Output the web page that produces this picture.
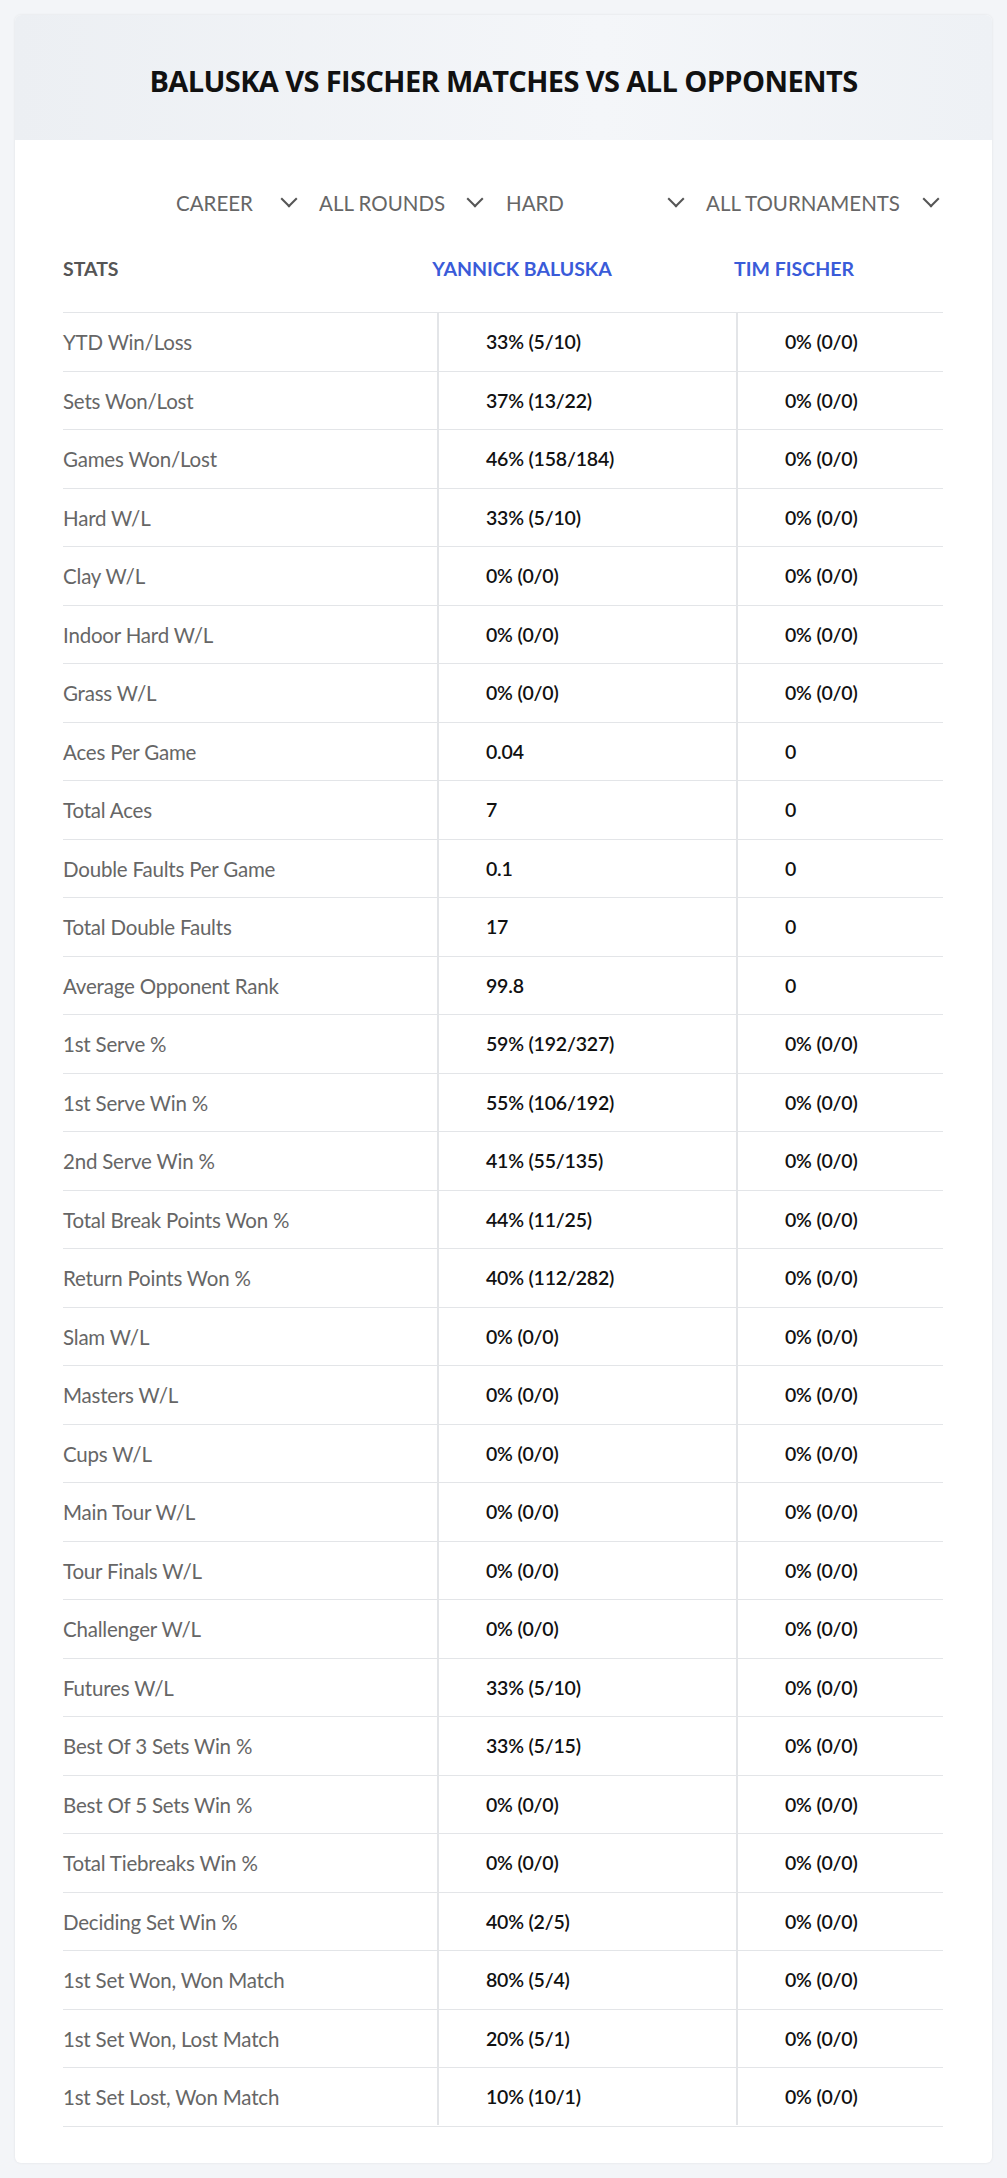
<!DOCTYPE html>
<html><head><meta charset="utf-8">
<script src="https://cdn.jsdelivr.net/npm/chart.js@4"></script>
<style>
html,body{margin:0;padding:0;background:#f3f5f8;font-family:Lato,"Noto Sans",sans-serif;}
#card{position:absolute;left:15px;top:15px;width:977px;height:2148px;background:#fff;border-radius:6px;box-shadow:0 0 3px rgba(0,0,0,0.08);overflow:hidden}
#head{position:absolute;left:0;top:0;width:977px;height:125px;background:linear-gradient(90deg,#eceff3,#f4f6f9 60%,#eef1f5);}
#title{position:absolute;left:0;top:3px;width:977px;line-height:125px;text-align:center;font-size:29px;font-weight:700;color:#111;font-family:"Open Sans",sans-serif;letter-spacing:-0.6px}
.dd{position:absolute;top:191px;font-size:20.5px;color:#666}
.chev{position:absolute;top:193px;width:10px;height:10px;border-right:2.5px solid #555;border-bottom:2.5px solid #555;transform:rotate(45deg)}
.hd{position:absolute;top:257px;font-size:19.5px;font-weight:700}
.row{position:absolute;left:63px;width:880px;height:58.5px;border-top:1.5px solid #e3e5e8}
.lab{position:absolute;left:0;font-size:20.5px;color:#666;line-height:58px;letter-spacing:-0.2px}
.v{position:absolute;font-size:19.5px;color:#111;font-weight:600;line-height:58px;letter-spacing:-0.2px}
.vl{position:absolute;top:312px;width:1.5px;background:#e3e5e8;height:1813px}
</style></head><body>
<div id="card"><div id="head"><div id="title"></div></div></div>
<div id="tbl"></div>
<script>
const filters=["CAREER","ALL ROUNDS","HARD","ALL TOURNAMENTS"];
const players=["YANNICK BALUSKA","TIM FISCHER"];
const stats=["YTD Win/Loss","Sets Won/Lost","Games Won/Lost","Hard W/L","Clay W/L","Indoor Hard W/L","Grass W/L","Aces Per Game","Total Aces","Double Faults Per Game","Total Double Faults","Average Opponent Rank","1st Serve %","1st Serve Win %","2nd Serve Win %","Total Break Points Won %","Return Points Won %","Slam W/L","Masters W/L","Cups W/L","Main Tour W/L","Tour Finals W/L","Challenger W/L","Futures W/L","Best Of 3 Sets Win %","Best Of 5 Sets Win %","Total Tiebreaks Win %","Deciding Set Win %","1st Set Won, Won Match","1st Set Won, Lost Match","1st Set Lost, Won Match"];
const baluska=["33% (5/10)","37% (13/22)","46% (158/184)","33% (5/10)","0% (0/0)","0% (0/0)","0% (0/0)","0.04","7","0.1","17","99.8","59% (192/327)","55% (106/192)","41% (55/135)","44% (11/25)","40% (112/282)","0% (0/0)","0% (0/0)","0% (0/0)","0% (0/0)","0% (0/0)","0% (0/0)","33% (5/10)","33% (5/15)","0% (0/0)","0% (0/0)","40% (2/5)","80% (5/4)","20% (5/1)","10% (10/1)"];
const fischer=["0% (0/0)","0% (0/0)","0% (0/0)","0% (0/0)","0% (0/0)","0% (0/0)","0% (0/0)","0","0","0","0","0","0% (0/0)","0% (0/0)","0% (0/0)","0% (0/0)","0% (0/0)","0% (0/0)","0% (0/0)","0% (0/0)","0% (0/0)","0% (0/0)","0% (0/0)","0% (0/0)","0% (0/0)","0% (0/0)","0% (0/0)","0% (0/0)","0% (0/0)","0% (0/0)","0% (0/0)"];
document.getElementById('title').textContent="BALUSKA VS FISCHER MATCHES VS ALL OPPONENTS";
let h='';
const fx=[176,319,506,706],cx=[283,469,670,925];
filters.forEach((f,i)=>{h+=`<div class="dd" style="left:${fx[i]}px">${f}</div><div class="chev" style="left:${cx[i]}px"></div>`});
h+=`<div class="hd" style="left:63px;color:#555">STATS</div>`;
h+=`<div class="hd" style="left:412px;width:220px;text-align:center;color:#3a5bd9">${players[0]}</div>`;
h+=`<div class="hd" style="left:684px;width:220px;text-align:center;color:#3a5bd9">${players[1]}</div>`;
stats.forEach((s,i)=>{const t=312+i*58.5;
h+=`<div class="row" style="top:${t}px"><div class="lab">${s}</div><div class="v" style="left:423px">${baluska[i]}</div><div class="v" style="left:722px">${fischer[i]}</div></div>`;});
h+=`<div class="row" style="top:${312+stats.length*58.5}px;height:0"></div>`;
h+=`<div class="vl" style="left:437px"></div><div class="vl" style="left:736px"></div>`;
document.getElementById('tbl').innerHTML=h;
</script>
</body></html>
